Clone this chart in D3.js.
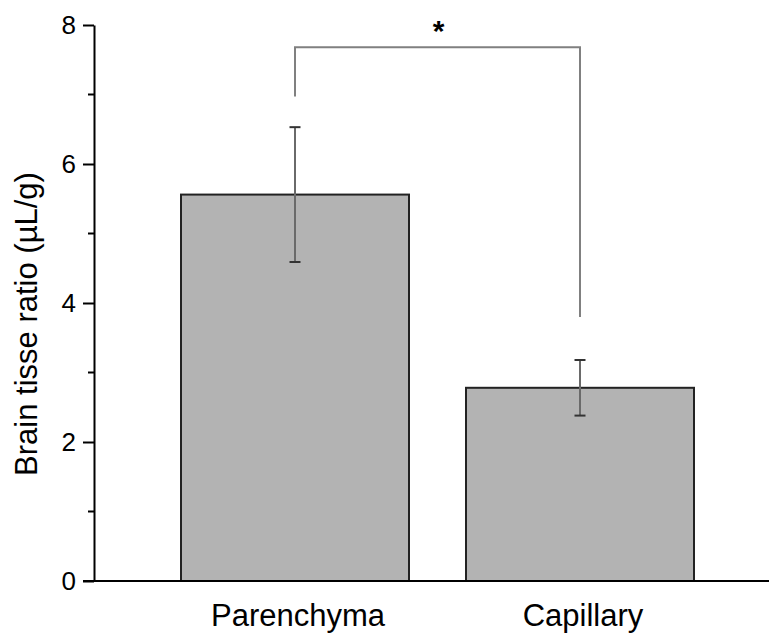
<!DOCTYPE html>
<html>
<head>
<meta charset="utf-8">
<script src="https://cdn.jsdelivr.net/npm/d3@7"></script>
<style>
  body { margin: 0; background: #fff; }
  svg { display: block; }
  text { font-family: "Liberation Sans", Arial, Helvetica, sans-serif; fill: #000; }
</style>
</head>
<body>
<svg id="chart" width="769" height="635"></svg>
<script>
// ---- data ----
const categories = ["Parenchyma", "Capillary"];
const values = [5.56, 2.78];
const errors = [0.97, 0.40];
const majorTicks = [0, 2, 4, 6, 8];
const minorTicks = [1, 3, 5, 7];
const yTitle = "Brain tisse ratio (\u00B5L/g)";
// significance bracket: top level, left leg end, right leg end
const bracketLevels = [7.68, 6.97, 3.80];
const sigLabel = "*";

// ---- layout ----
const svg = d3.select("#chart");
const axisX = 94, baseY = 581, topY = 25;

const y = d3.scaleLinear().domain([0, 8]).range([baseY, topY]);
const x = d3.scaleBand().domain(categories)
  .range([152.5, 722.5]).paddingInner(0.2).paddingOuter(0.1);

// bars
svg.selectAll("rect.bar").data(values).join("rect")
  .attr("class", "bar")
  .attr("x", (d, i) => x(categories[i]))
  .attr("width", x.bandwidth())
  .attr("y", d => y(d))
  .attr("height", d => y(0) - y(d))
  .attr("fill", "#b3b3b3")
  .attr("stroke", "#222")
  .attr("stroke-width", 2);

// error bars
const cx = i => x(categories[i]) + x.bandwidth() / 2;
const eb = svg.append("g");
values.forEach((v, i) => {
  const c = cx(i);
  eb.append("line").attr("x1", c).attr("x2", c)
    .attr("y1", y(v + errors[i])).attr("y2", y(v - errors[i]))
    .attr("stroke", "#6a6a6a").attr("stroke-width", 2);
  [v + errors[i], v - errors[i]].forEach(e => {
    eb.append("line").attr("x1", c - 5.5).attr("x2", c + 5.5)
      .attr("y1", y(e)).attr("y2", y(e))
      .attr("stroke", "#333").attr("stroke-width", 2);
  });
});

// significance bracket
const bx1 = cx(0), bx2 = cx(1);
svg.append("path")
  .attr("d", `M${bx1},${y(bracketLevels[1])}V${y(bracketLevels[0])}H${bx2}V${y(bracketLevels[2])}`)
  .attr("fill", "none").attr("stroke", "#808080").attr("stroke-width", 2);
svg.append("text")
  .attr("x", (bx1 + bx2) / 2 + 1).attr("y", 41)
  .attr("text-anchor", "middle")
  .attr("font-size", 30).attr("font-weight", "bold")
  .text(sigLabel);

// y axis
const yAxis = svg.append("g").attr("transform", `translate(${axisX},0)`)
  .call(d3.axisLeft(y).tickValues(majorTicks).tickFormat(d3.format("d"))
    .tickSize(11).tickSizeOuter(0).tickPadding(7));
yAxis.select(".domain").attr("stroke", "#000").attr("stroke-width", 2);
yAxis.selectAll(".tick line").attr("stroke", "#000").attr("stroke-width", 2);
yAxis.selectAll(".tick text").attr("font-size", 26)
  .style("font-family", '"Liberation Sans", Arial, sans-serif');

svg.append("g").selectAll("line").data(minorTicks).join("line")
  .attr("x1", axisX - 6).attr("x2", axisX)
  .attr("y1", d => y(d)).attr("y2", d => y(d))
  .attr("stroke", "#000").attr("stroke-width", 2);

// x axis line
svg.append("line")
  .attr("x1", axisX - 11).attr("x2", 769)
  .attr("y1", baseY).attr("y2", baseY)
  .attr("stroke", "#000").attr("stroke-width", 2);

// category labels
svg.append("g").selectAll("text").data(categories).join("text")
  .attr("x", (d, i) => cx(i) + 3)
  .attr("y", 626)
  .attr("text-anchor", "middle")
  .attr("font-size", 31)
  .text(d => d);

// y title
svg.append("text")
  .attr("transform", `translate(37,${324}) rotate(-90)`)
  .attr("text-anchor", "middle")
  .attr("font-size", 31)
  .text(yTitle);
</script>
</body>
</html>
